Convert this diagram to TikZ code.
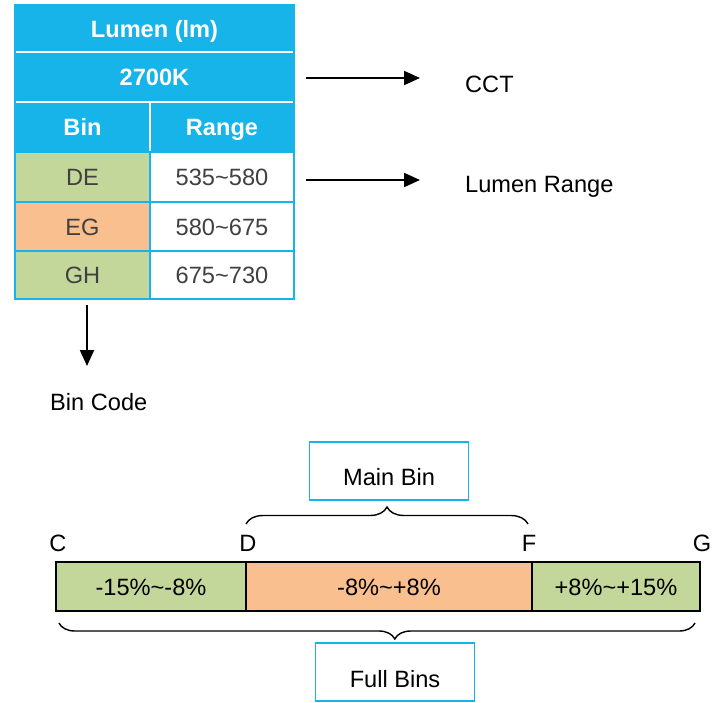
\documentclass[tikz,border=0pt]{standalone}
\usepackage{fontspec}
\setmainfont{Liberation Sans}
\usetikzlibrary{arrows.meta,decorations.pathreplacing}
\definecolor{hblue}{RGB}{22,180,233}
\definecolor{cgreen}{RGB}{196,215,155}
\definecolor{corange}{RGB}{249,191,143}
\definecolor{tgray}{RGB}{64,64,64}
\newcommand{\myfs}{\fontsize{23.6}{28}\selectfont}
\tikzset{
  base/.style={inner sep=0pt, outer sep=0pt, anchor=north west, font=\myfs, text height=17pt, text depth=0pt},
  hcell/.style={base, fill=hblue, draw=white, line width=2pt, text=white, font=\myfs\bfseries},
  dcell/.style={base, draw=hblue, line width=2pt, text=tgray},
  barcell/.style={base, draw=black, line width=1.5pt, text=black, minimum height=49pt},
  lbl/.style={inner sep=0pt, font=\myfs, text height=17pt, text depth=0pt},
  bbox/.style={inner sep=0pt, draw=hblue, line width=1.5pt, fill=white, minimum width=159pt, minimum height=58pt, font=\myfs, text depth=0pt},
  arr/.style={line width=2pt, -{Triangle[length=16pt,width=14pt]}},
  brc/.style={line width=1.4pt, decorate}
}
\begin{document}
\begin{tikzpicture}[x=1pt,y=-1pt]
\useasboundingbox (0,0) rectangle (722,702);
% table
\node[hcell, minimum width=279pt, minimum height=47pt] (t1) at (15,5) {Lumen (lm)};
\node[hcell, minimum width=279pt, minimum height=50pt] (t2) at (15,52) {2700K};
\node[hcell, minimum width=135pt, minimum height=50pt] (hb) at (15,102) {Bin};
\node[hcell, minimum width=144pt, minimum height=50pt] (hr) at (150,102) {Range};
\node[dcell, fill=cgreen, minimum width=135pt, minimum height=50pt] (de) at (15,152) {DE};
\node[dcell, fill=white, minimum width=144pt, minimum height=50pt] (rde) at (150,152) {535\textasciitilde 580};
\node[dcell, fill=corange, minimum width=135pt, minimum height=49pt] (eg) at (15,202) {EG};
\node[dcell, fill=white, minimum width=144pt, minimum height=49pt] (reg) at (150,202) {580\textasciitilde 675};
\node[dcell, fill=cgreen, minimum width=135pt, minimum height=48pt] (gh) at (15,251) {GH};
\node[dcell, fill=white, minimum width=144pt, minimum height=48pt] (rgh) at (150,251) {675\textasciitilde 730};
\draw[hblue, line width=1.5pt] (15,5) rectangle (294,299);
% labels
\node[lbl, anchor=west] (cct) at (465,84) {CCT};
\node[lbl, anchor=west] (lr) at (465,184) {Lumen Range};
\node[lbl, anchor=west] (bc) at (50,402) {Bin Code};
\coordinate (bcarr) at (87,366);
\draw[arr, shorten <=12pt, shorten >=45pt] ([yshift=-1pt]t2.east) -- ([yshift=-1pt]t2.east -| cct.west);
\draw[arr, shorten <=12pt, shorten >=45pt] ([yshift=-3pt]rde.east) -- ([yshift=-3pt]rde.east -| lr.west);
\draw[arr] ([xshift=4.5pt,yshift=-6pt]gh.south) -- (bcarr);
% bar
\node[barcell, fill=cgreen, minimum width=190pt] (c1) at (56,562) {-15\%\textasciitilde -8\%};
\node[barcell, fill=corange, minimum width=286pt] (c2) at (246,562) {-8\%\textasciitilde +8\%};
\node[barcell, fill=cgreen, minimum width=168pt] (c3) at (532,562) {+8\%\textasciitilde +15\%};
\node[lbl] (lc) at (58,543) {C};
\node[lbl] (ld) at (248,543) {D};
\node[lbl] (lf) at (529,543) {F};
\node[lbl] (lg) at (702,543) {G};
% braces
\draw[brc, decoration={brace, amplitude=17pt}] (246,524) -- (528,524);
\draw[brc, decoration={brace, amplitude=16pt, aspect=0.472}] (695,623) -- (59,623);
\node[bbox, text height=28pt] (mb) at (389,471) {Main Bin};
\node[bbox, text height=30pt] (fb) at (395,672) {Full Bins};
\end{tikzpicture}
\end{document}
